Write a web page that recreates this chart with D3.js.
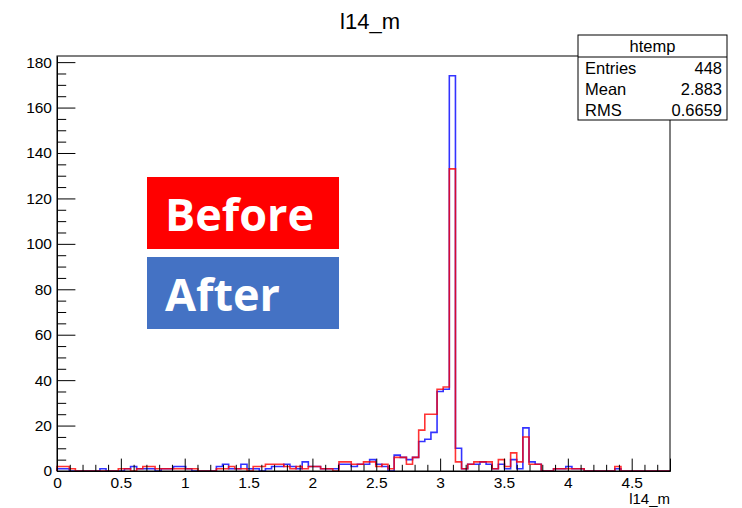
<!DOCTYPE html>
<html>
<head>
<meta charset="utf-8">
<script src="https://cdn.jsdelivr.net/npm/d3@7"></script>
<style>
  html, body { margin: 0; padding: 0; background: #ffffff; }
  svg { display: block; font-family: "Liberation Sans", Arial, sans-serif; }
</style>
</head>
<body>
<div id="chart"></div>
<script>
// Histogram definition (ROOT htemp, 100 bins from 0 to 4.8)
const binLow = 0;
const binHigh = 4.8;
const nBins = 100;

// Bin contents, "After" (blue)
const afterCounts = [
  1, 1, 0, 0, 0, 0, 0, 1, 0, 0,
  0, 1, 2, 1, 1, 1, 0, 1, 1, 2,
  2, 1, 0, 0, 0, 0, 2, 3, 1, 1,
  3, 1, 1, 0, 1, 2, 2, 3, 2, 1,
  4, 2, 2, 1, 1, 1, 3, 3, 2, 3,
  3, 5, 3, 2, 0, 7, 6, 5, 6, 13,
  14, 17, 35, 36, 174, 10, 1, 3, 3, 4,
  3, 1, 3, 1, 5, 1, 19, 4, 3, 0,
  0, 1, 1, 2, 1, 1, 0, 0, 0, 0,
  0, 1, 0, 0, 0, 0, 0, 0, 0, 0
];

// Bin contents, "Before" (red)
const beforeCounts = [
  2, 2, 1, 0, 0, 0, 0, 0, 0, 0,
  1, 1, 0, 1, 2, 2, 1, 1, 1, 1,
  1, 1, 1, 0, 0, 0, 1, 1, 2, 1,
  1, 0, 2, 2, 3, 3, 3, 2, 1, 2,
  1, 2, 2, 1, 1, 0, 4, 4, 3, 3,
  4, 4, 2, 3, 1, 6, 6, 3, 6, 18,
  25, 25, 36, 37, 133, 4, 1, 3, 4, 4,
  4, 1, 5, 2, 8, 4, 15, 3, 3, 0,
  0, 1, 1, 1, 1, 1, 0, 0, 0, 0,
  0, 2, 0, 0, 0, 0, 0, 0, 0, 0
];

// Axis ticks
const xMajorTicks = [0, 0.5, 1, 1.5, 2, 2.5, 3, 3.5, 4, 4.5];
const yMajorTicks = [0, 20, 40, 60, 80, 100, 120, 140, 160, 180];
const yMax = 182.7;

// Stats box rows
const statsTitle = 'htemp';
const statsLabels = ['Entries', 'Mean', 'RMS'];
const statsValues = ['448', '2.883', '0.6659'];

// Annotation boxes
const noteLabels = ['Before', 'After'];
const noteColors = ['#ff0000', '#4472c4'];

const width = 742;
const height = 508;
const frame = { left: 57, right: 670, top: 56, bottom: 471 };

const svg = d3.select('#chart')
  .append('svg')
  .attr('width', width)
  .attr('height', height);

const x = d3.scaleLinear().domain([binLow, binHigh]).range([frame.left, frame.right]);
const y = d3.scaleLinear().domain([0, yMax]).range([frame.bottom, frame.top]);

const binWidth = (binHigh - binLow) / nBins;

// Step outline for a histogram, like ROOT's HIST option
function histPath(counts) {
  const pts = [[x(binLow), y(0)]];
  counts.forEach((c, i) => {
    const x0 = x(binLow + i * binWidth);
    const x1 = x(binLow + (i + 1) * binWidth);
    pts.push([x0, y(c)], [x1, y(c)]);
  });
  pts.push([x(binHigh), y(0)]);
  return d3.line()(pts);
}

// Histograms (blue under red)
svg.append('path')
  .attr('d', histPath(afterCounts))
  .attr('fill', 'none')
  .attr('stroke', '#0000ff')
  .attr('stroke-width', 1.6)
  .attr('stroke-opacity', 0.8);

svg.append('path')
  .attr('d', histPath(beforeCounts))
  .attr('fill', 'none')
  .attr('stroke', '#ff0000')
  .attr('stroke-width', 1.6)
  .attr('stroke-opacity', 0.8);

// Frame
svg.append('rect')
  .attr('x', frame.left)
  .attr('y', frame.top)
  .attr('width', frame.right - frame.left)
  .attr('height', frame.bottom - frame.top)
  .attr('fill', 'none')
  .attr('stroke', '#000')
  .attr('stroke-width', 1);

// X axis: major ticks with labels, minor ticks every 0.1
const xMinor = d3.range(0, 48).map(i => i * 0.1).filter(v => !xMajorTicks.includes(+v.toFixed(1)));

svg.append('g')
  .attr('transform', `translate(0,${frame.bottom})`)
  .call(d3.axisBottom(x).tickValues(xMinor).tickSize(-6.2).tickFormat(''))
  .call(g => g.select('.domain').remove());

svg.append('g')
  .attr('transform', `translate(0,${frame.bottom})`)
  .call(d3.axisBottom(x)
    .tickValues(xMajorTicks)
    .tickSize(-12.4)
    .tickPadding(6)
    .tickFormat(d => String(d)))
  .call(g => g.select('.domain').attr('stroke', '#000'))
  .call(g => g.selectAll('text')
    .attr('fill', '#000')
    .attr('font-size', '15.5px')
    .attr('font-family', '"Liberation Sans", Arial, sans-serif'));

// Y axis: major every 20, minor every 5
const yMinor = d3.range(0, 37).map(i => i * 5).filter(v => v % 20 !== 0 && v < yMax);

svg.append('g')
  .attr('transform', `translate(${frame.left},0)`)
  .call(d3.axisLeft(y).tickValues(yMinor).tickSize(-9.2).tickFormat(''))
  .call(g => g.select('.domain').remove());

svg.append('g')
  .attr('transform', `translate(${frame.left},0)`)
  .call(d3.axisLeft(y)
    .tickValues(yMajorTicks)
    .tickSize(-18.4)
    .tickPadding(5)
    .tickSizeOuter(0)
    .tickFormat(d => String(d)))
  .call(g => g.select('.domain').attr('stroke', '#000'))
  .call(g => g.selectAll('text')
    .attr('fill', '#000')
    .attr('font-size', '15.5px')
    .attr('font-family', '"Liberation Sans", Arial, sans-serif'));

// Axis title and histogram title
svg.append('text')
  .attr('x', frame.right)
  .attr('y', 504)
  .attr('text-anchor', 'end')
  .attr('font-size', '15px')
  .text('l14_m');

svg.append('text')
  .attr('x', 370)
  .attr('y', 29)
  .attr('text-anchor', 'middle')
  .attr('font-size', '22px')
  .text('l14_m');

// Stats box
const stats = svg.append('g').attr('class', 'stats');
const sb = { x: 578, y: 35, w: 149, head: 22, rowH: 21 };

stats.append('rect')
  .attr('x', sb.x).attr('y', sb.y)
  .attr('width', sb.w).attr('height', sb.head + sb.rowH * statsLabels.length)
  .attr('fill', '#fff').attr('stroke', '#000');

stats.append('line')
  .attr('x1', sb.x).attr('x2', sb.x + sb.w)
  .attr('y1', sb.y + sb.head).attr('y2', sb.y + sb.head)
  .attr('stroke', '#000');

stats.append('text')
  .attr('x', sb.x + sb.w / 2)
  .attr('y', sb.y + 17)
  .attr('text-anchor', 'middle')
  .attr('font-size', '16.5px')
  .text(statsTitle);

statsLabels.forEach((lab, i) => {
  const ty = sb.y + sb.head + sb.rowH * (i + 1) - 4;
  stats.append('text')
    .attr('x', sb.x + 7).attr('y', ty)
    .attr('font-size', '16.5px')
    .text(lab);
  stats.append('text')
    .attr('x', sb.x + sb.w - 5).attr('y', ty)
    .attr('text-anchor', 'end')
    .attr('font-size', '16.5px')
    .text(statsValues[i]);
});

// Before / After annotation boxes
noteLabels.forEach((lab, i) => {
  const top = 177 + i * 80;
  svg.append('rect')
    .attr('x', 147).attr('y', top)
    .attr('width', 192).attr('height', 72)
    .attr('fill', noteColors[i]);
  svg.append('text')
    .attr('x', 165).attr('y', top + 54)
    .attr('fill', '#fff')
    .attr('font-size', '45px')
    .attr('font-weight', 'bold')
    .attr('font-family', '"Open Sans", "DejaVu Sans", sans-serif')
    .text(lab);
});
</script>
</body>
</html>
